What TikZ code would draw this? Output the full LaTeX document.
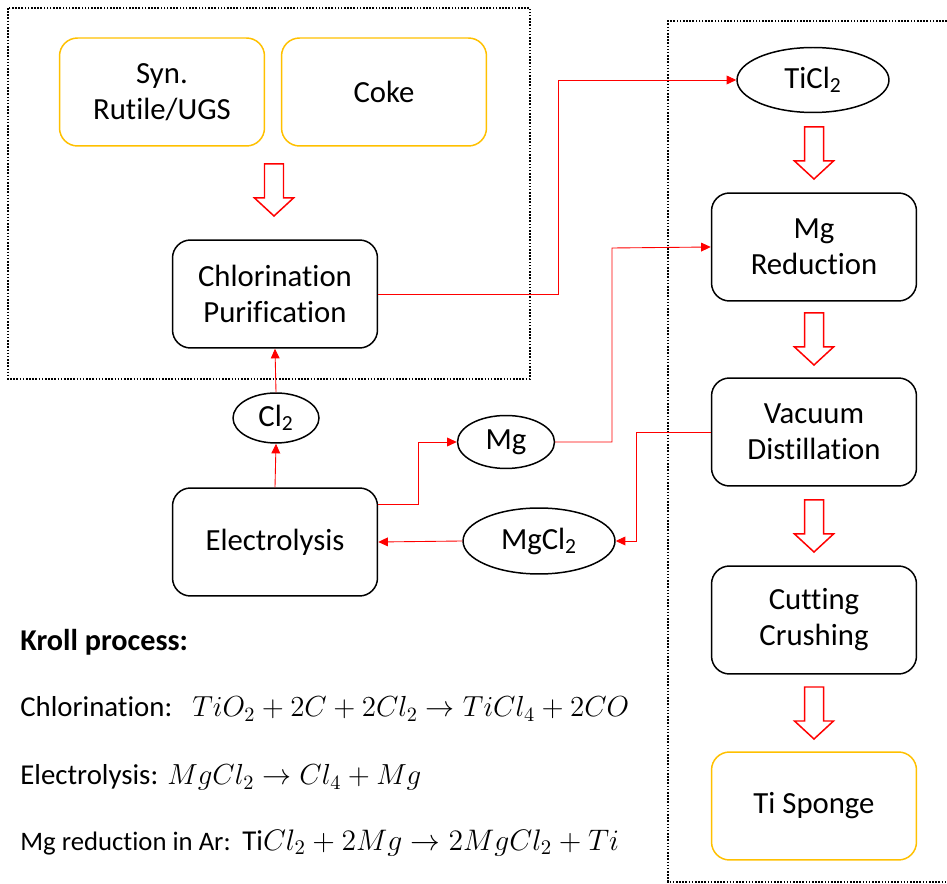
\documentclass[tikz,border=0pt]{standalone}
\usepackage{fix-cm}
\usepackage[no-math]{fontspec}
\setmainfont{Carlito}[Ligatures=NoCommon]
\usetikzlibrary{arrows.meta,shapes.geometric}
\definecolor{gold}{HTML}{FFC000}
\definecolor{arrred}{HTML}{FF0000}
\newcommand{\boxfont}{\fontsize{17.5}{20.5}\selectfont}
\newcommand{\lblfont}{\fontsize{16.4}{19}\selectfont}
\newcommand{\eqfont}{\fontsize{16.5}{20}\selectfont}
\newcommand{\harrow}[2]{\draw[hollow] ({#1-9.5},#2) -- ({#1+9.5},#2) -- ({#1+9.5},{#2+34}) -- ({#1+19.5},{#2+34}) -- (#1,{#2+52}) -- ({#1-19.5},{#2+34}) -- ({#1-9.5},{#2+34}) -- cycle;}
\begin{document}
\begin{tikzpicture}[x=0.02cm,y=-0.02cm,
 box/.style={draw=black, line width=0.85pt, rounded corners=0.36cm, minimum width=4.1cm, minimum height=2.16cm, align=center, font=\boxfont, inner sep=0pt},
 srcbox/.style={box, draw=gold},
 oval/.style={draw=black, ellipse, line width=0.85pt, inner sep=0pt, font=\boxfont},
 conn/.style={draw=arrred, line width=0.5pt, -{Triangle[length=5.5pt,width=5pt]}},
 hollow/.style={draw=arrred, line width=0.85pt, fill=white, line join=miter},
 frame/.style={line width=0.9pt, dash pattern=on 0.9pt off 0.9pt},
 lbl/.style={anchor=base west, inner sep=0pt, font=\lblfont},
]
\useasboundingbox (0,0) rectangle (947,884);

% frames
\draw[frame] (8,8) rectangle (530,379);
\draw[frame] (947,21) -- (668,21) -- (668,882) -- (947,882);

% nodes
\node[srcbox] (syn) at (162,92) {Syn.\\Rutile/UGS};
\node[srcbox] (coke) at (384,92) {Coke};
\node[box] (chl) at (275,294) {Chlorination\\Purification};
\node[oval, minimum width=1.72cm, minimum height=1.0cm] (cl2) at (276,418) {Cl\textsubscript{2}};
\node[box] (ele) at (275,542) {Electrolysis};
\node[oval, minimum width=1.94cm, minimum height=1.06cm] (mg) at (506,442) {Mg};
\node[oval, minimum width=3.04cm, minimum height=1.32cm] (mgcl) at (539,541) {MgCl\textsubscript{2}};
\node[oval, minimum width=3.04cm, minimum height=1.3cm] (ticl) at (813,80) {TiCl\textsubscript{2}};
\node[box] (mgred) at (814,247) {Mg\\Reduction};
\node[box] (vac) at (814,432) {Vacuum\\Distillation};
\node[box] (cut) at (814,620) {Cutting\\Crushing};
\node[srcbox] (ti) at (814,806) {Ti Sponge};

% hollow arrows
\harrow{274}{164}
\harrow{814}{127}
\harrow{814}{313}
\harrow{814}{500}
\harrow{814}{687}

% connectors
\coordinate (c1) at (558,80);
\coordinate (c2) at (418,442);
\coordinate (c3) at (612,248);
\coordinate (c4) at (636,541);
\draw[conn] (chl.east) -| (c1) -- (ticl.west);
\draw[conn] (ele.north) -- (cl2.south);
\draw[conn] (cl2.north) -- (chl.south);
\draw[conn] ([yshift=0.76cm]ele.east) -| (c2) -- (mg.west);
\draw[conn] (mgcl.west) -- (ele.east);
\draw[conn] (mg.east) -| (c3) -- (mgred.west);
\draw[conn] (vac.west) -| (c4) -- (mgcl.east);

% equations
\node[lbl, font=\fontsize{17.2}{20}\selectfont\bfseries] (kroll) at (20,651) {Kroll process:};
\node[lbl] (l1) at (20,717) {Chlorination:};
\node[lbl, font=\eqfont] (e1) at (192,717) {$TiO_2+2C+2Cl_2\rightarrow TiCl_4+2CO$};
\node[lbl] (l2) at (20,785) {Electrolysis:};
\node[lbl, font=\eqfont] (e2) at (167,785) {$MgCl_2\rightarrow Cl_4+Mg$};
\node[lbl, font=\fontsize{15.2}{19}\selectfont] (l3) at (20,850) {Mg reduction in Ar:};
\node[lbl, font=\fontsize{16.9}{20}\selectfont] (e3) at (242,850) {{\lblfont Ti}$Cl_2+2Mg\rightarrow 2MgCl_2+Ti$};
\end{tikzpicture}
\end{document}
